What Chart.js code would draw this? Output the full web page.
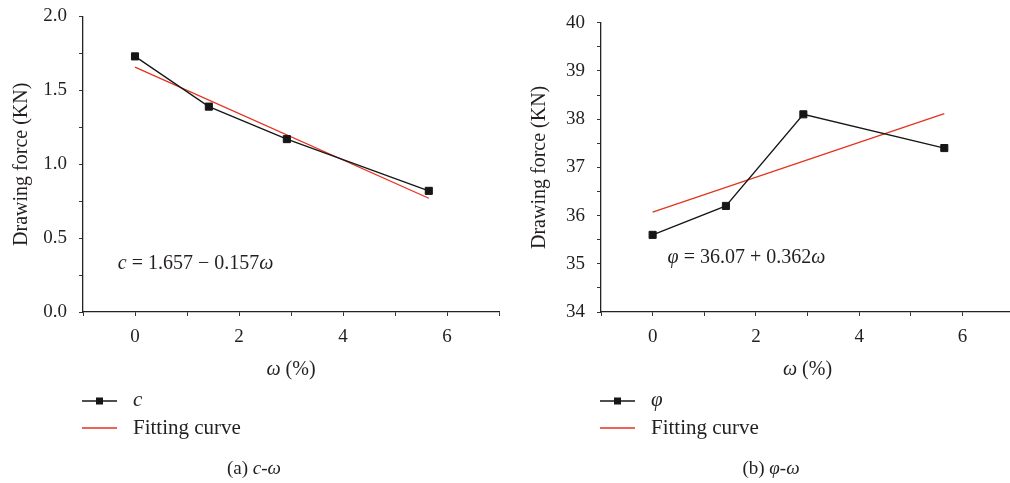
<!DOCTYPE html>
<html>
<head>
<meta charset="utf-8">
<script src="https://cdn.jsdelivr.net/npm/chart.js@4.4.0/dist/chart.umd.min.js"></script>
<style>
  html, body { margin: 0; padding: 0; background: #fff; overflow: hidden; }
  #wrap { position: relative; width: 1010px; height: 483px; overflow: hidden; }
  .panel { position: absolute; top: 0; height: 483px; }
  #panelC { left: 0; width: 505px; }
  #panelPhi { left: 505px; width: 515px; }
</style>
</head>
<body>
<div id="wrap">
  <div class="panel" id="panelC"><canvas id="chartC" width="505" height="483"></canvas></div>
  <div class="panel" id="panelPhi"><canvas id="chartPhi" width="515" height="483"></canvas></div>
</div>
<script>
// Moisture content (%) of the samples
const moisture = [0, 1.42, 2.92, 5.65];
// Measured cohesion c and friction angle φ at each moisture content
const cohesion = [1.73, 1.39, 1.17, 0.82];
const friction = [35.6, 36.2, 38.1, 37.4];
// Linear fits: [intercept, slope]
const cohesionFit = [1.657, -0.157];
const frictionFit = [36.07, 0.362];
const fitRange = [0, 5.65];

const FONT = "'Liberation Serif', 'Times New Roman', serif";
const TEXT = '#231f20';
const BLACK = '#161616';
const RED = '#e4321f';
const LABEL_SIZE = 20;

Chart.defaults.font.family = FONT;
Chart.defaults.color = TEXT;

// draw a run of text pieces, some italic, starting at x (or centred on x)
function drawRuns(ctx, runs, x, y, size, align) {
    let total = 0;
    const widths = runs.map(r => {
        ctx.font = (r.it ? 'italic ' : '') + size + 'px ' + FONT;
        const w = ctx.measureText(r.t).width;
        total += w;
        return w;
    });
    let cx = align === 'center' ? x - total / 2 : x;
    ctx.textAlign = 'left';
    runs.forEach((r, i) => {
        ctx.font = (r.it ? 'italic ' : '') + size + 'px ' + FONT;
        ctx.fillText(r.t, cx, y);
        cx += widths[i];
    });
}

function fmtFit(fit, sym) {
    const sign = fit[1] < 0 ? ' \u2212 ' : ' + ';
    return [
        { t: sym, it: true },
        { t: ' = ' + fit[0] + sign + Math.abs(fit[1]) },
        { t: '\u03c9', it: true }
    ];
}

// keep the plot box exactly where the layout padding puts it
function noScalePadding(s) {
    s.paddingLeft = 0;
    s.paddingRight = 0;
    s.paddingTop = 0;
    s.paddingBottom = 0;
}

// titles, equation, legend and caption for one panel
function makeDecor(cfg) {
    return {
        id: 'decor',
        afterDraw(chart) {
            const ctx = chart.ctx;
            const a = chart.chartArea;
            const sx = chart.scales.x, sy = chart.scales.y;
            ctx.save();
            ctx.fillStyle = TEXT;
            ctx.textBaseline = 'alphabetic';

            // fitted equation
            drawRuns(ctx, fmtFit(cfg.fit, cfg.sym),
                sx.getPixelForValue(cfg.eqAt[0]), sy.getPixelForValue(cfg.eqAt[1]), LABEL_SIZE, 'left');

            // x axis title
            drawRuns(ctx, [{ t: '\u03c9', it: true }, { t: ' (%)' }],
                (a.left + a.right) / 2, a.bottom + 63, LABEL_SIZE, 'center');

            // y axis title
            ctx.save();
            ctx.translate(cfg.yTitleX, (a.top + a.bottom) / 2);
            ctx.rotate(-Math.PI / 2);
            drawRuns(ctx, [{ t: 'Drawing force (KN)' }], 0, 7, LABEL_SIZE, 'center');
            ctx.restore();

            // legend
            const ds = chart.data.datasets;
            const lx = a.left - 1, ly = a.bottom + 89, ly2 = a.bottom + 116;
            ctx.lineWidth = ds[0].borderWidth;
            ctx.strokeStyle = ds[0].borderColor;
            ctx.beginPath(); ctx.moveTo(lx, ly); ctx.lineTo(lx + 35, ly); ctx.stroke();
            ctx.fillStyle = ds[0].pointBackgroundColor;
            ctx.fillRect(lx + 17.5 - 3.5, ly - 3.5, 7, 7);
            ctx.strokeStyle = ds[1].borderColor;
            ctx.lineWidth = ds[1].borderWidth;
            ctx.beginPath(); ctx.moveTo(lx, ly2); ctx.lineTo(lx + 35, ly2); ctx.stroke();
            ctx.fillStyle = TEXT;
            drawRuns(ctx, [{ t: ds[0].label, it: true }], lx + 51, ly + 5, 21, 'left');
            drawRuns(ctx, [{ t: ds[1].label }], lx + 51, ly2 + 6, 21, 'left');

            // panel caption
            drawRuns(ctx, cfg.caption, cfg.captionX, a.bottom + 162, 19, 'center');
            ctx.restore();
        }
    };
}

function panel(canvasId, values, fit, sym, yRange, yStep, yLabel, yWidth, pad, decor) {
    new Chart(document.getElementById(canvasId), {
        type: 'line',
        data: {
            datasets: [
                {
                    label: sym,
                    data: moisture.map((x, i) => ({ x: x, y: values[i] })),
                    borderColor: BLACK,
                    borderWidth: 1.3,
                    pointStyle: 'rect',
                    pointRadius: 5,
                    pointBorderWidth: 1,
                    pointBackgroundColor: BLACK,
                    pointBorderColor: BLACK,
                    tension: 0,
                    order: 1
                },
                {
                    label: 'Fitting curve',
                    data: fitRange.map(x => ({ x: x, y: fit[0] + fit[1] * x })),
                    borderColor: RED,
                    borderWidth: 1.3,
                    pointRadius: 0,
                    tension: 0,
                    order: 2
                }
            ]
        },
        options: {
            responsive: false,
            animation: false,
            devicePixelRatio: 1,
            layout: { padding: pad },
            plugins: {
                legend: { display: false },
                tooltip: { enabled: false }
            },
            scales: {
                x: {
                    type: 'linear',
                    min: -1,
                    max: 7,
                    afterFit: s => { s.height = 70; noScalePadding(s); },
                    ticks: {
                        stepSize: 1,
                        autoSkip: false,
                        maxRotation: 0,
                        padding: 10,
                        font: { size: 19 },
                        color: TEXT,
                        callback: v => (v % 2 === 0 ? String(v) : '')
                    },
                    grid: { drawOnChartArea: false, drawTicks: true, tickLength: 4, color: '#333' },
                    border: { color: '#222', width: 1.3 }
                },
                y: {
                    min: yRange[0],
                    max: yRange[1],
                    afterFit: s => { s.width = yWidth; noScalePadding(s); },
                    ticks: {
                        stepSize: yStep,
                        autoSkip: false,
                        padding: 12,
                        font: { size: 19 },
                        color: TEXT,
                        callback: yLabel
                    },
                    grid: { drawOnChartArea: false, drawTicks: true, tickLength: 4, color: '#333' },
                    border: { color: '#222', width: 1.3 }
                }
            }
        },
        plugins: [makeDecor(decor)]
    });
}

panel('chartC', cohesion, cohesionFit, 'c', [0, 2], 0.25,
    v => (Math.abs(v * 2 - Math.round(v * 2)) < 1e-6 ? v.toFixed(1) : ''),
    83, { left: 0, right: 5, top: 16.5, bottom: 101 },
    {
        fit: cohesionFit, sym: 'c', eqAt: [-0.33, 0.29], yTitleX: 20,
        captionX: 254,
        caption: [{ t: '(a) ' }, { t: 'c', it: true }, { t: '-' }, { t: '\u03c9', it: true }]
    });

// the right panel's axis runs on past the edge of the figure
panel('chartPhi', friction, frictionFit, '\u03c6', [34, 40], 0.5,
    v => (Number.isInteger(v) ? String(v) : ''),
    96, { left: 0, right: 0, top: 22.7, bottom: 101 },
    {
        fit: frictionFit, sym: '\u03c6', eqAt: [0.29, 35.02], yTitleX: 33,
        captionX: 266,
        caption: [{ t: '(b) ' }, { t: '\u03c6', it: true }, { t: '-' }, { t: '\u03c9', it: true }]
    });
</script>
</body>
</html>
